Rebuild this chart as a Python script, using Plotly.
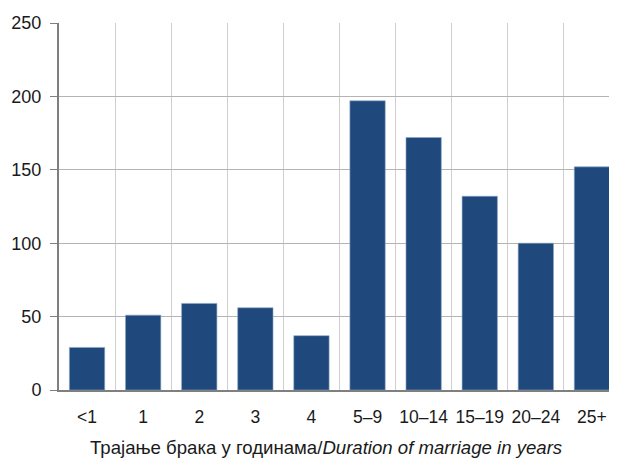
import plotly.graph_objects as go

categories = ["<1", "1", "2", "3", "4", "5–9", "10–14", "15–19", "20–24", "25+"]
values = [29, 51, 59, 56, 37, 197, 172, 132, 100, 152]
y_ticks = [0, 50, 100, 150, 200, 250]
x_title = "Трајање брака у годинама/<i>Duration of marriage in years</i>"

fig = go.Figure(go.Bar(
    x=categories, y=values,
    marker=dict(color="#1F497D", line=dict(color="#8FA8C8", width=0.6)),
))

font = dict(family="Liberation Sans, Arial, sans-serif", size=18, color="#1a1a1a")
tfont = dict(family="Liberation Sans, Arial, sans-serif", size=18.6, color="#1a1a1a")
xfont = dict(family="Liberation Sans, Arial, sans-serif", size=17.5, color="#1a1a1a")
fig.update_layout(
    width=617, height=460,
    margin=dict(l=51, r=5, t=15, b=78, autoexpand=False),
    plot_bgcolor="white", paper_bgcolor="white",
    bargap=0.37, showlegend=False, font=font,
)
fig.add_annotation(
    text=x_title, xref="paper", yref="paper", x=0.476, y=-0.158,
    xanchor="center", yanchor="middle", showarrow=False, font=tfont,
)
fig.update_xaxes(
    type="category", tickson="boundaries", showgrid=True, gridcolor="#CFCFCF", gridwidth=1,
    ticks="", showline=True, linecolor="#7F7F7F", linewidth=2,
    tickangle=0, ticklabelstandoff=10, automargin=False,
    tickfont=xfont,
)
fig.update_yaxes(
    range=[0, 250], tickvals=y_ticks, showgrid=True, gridcolor="#B4B4B4", gridwidth=1,
    ticks="outside", ticklen=7, tickcolor="#7F7F7F", tickwidth=1,
    ticklabelstandoff=5, automargin=False,
    showline=True, linecolor="#7F7F7F", linewidth=2, zeroline=False,
    tickfont=font,
)
fig.write_html("out.html")
